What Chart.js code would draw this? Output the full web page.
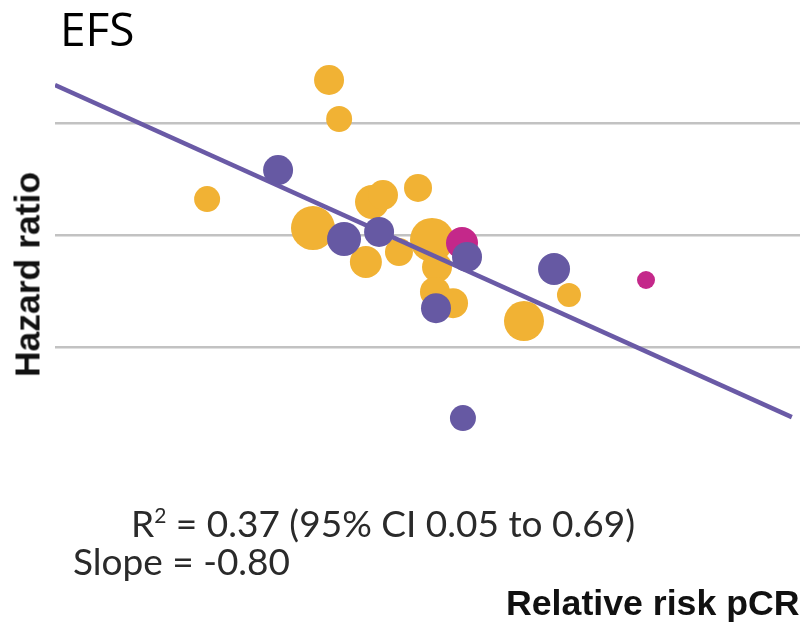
<!DOCTYPE html>
<html>
<head>
<meta charset="utf-8">
<script src="https://cdn.jsdelivr.net/npm/chart.js@4.4.1/dist/chart.umd.min.js"></script>
<style>
  body { margin: 0; background: #fff; }
  .wrap { position: relative; width: 801px; height: 623px; overflow: hidden; }
  .txt { position: absolute; white-space: nowrap; color: #111; }
  .title { left: 60px; top: 5px; font: 46px/46px 'Open Sans', sans-serif; color: #000; }
  .ylabel { left: -122px; top: 257px; width: 300px; text-align: center; font: bold 35.5px/35px 'Liberation Sans', Arial, sans-serif; transform: rotate(-90deg); }
  .xlabel { left: 506px; top: 586px; font: bold 35.7px/35px 'Liberation Sans', Arial, sans-serif; }
  .note { font: 37px/35px Lato, sans-serif; color: #2a2a2a; }
  .note sup { font-size: 21px; vertical-align: 14px; line-height: 0; }
</style>
</head>
<body>
<div class="wrap">
  <canvas id="efs" width="801" height="623"></canvas>
  <div class="txt title">EFS</div>
  <div class="txt ylabel">Hazard ratio</div>
  <div class="txt xlabel">Relative risk pCR</div>
  <div class="txt note" style="left:131px; top:505px">R<sup>2</sup> = 0.37 (95% CI 0.05 to 0.69)</div>
  <div class="txt note" style="left:73px; top:543px">Slope = -0.80</div>
</div>
<script>
// trial-level points (x = relative risk pCR, y = hazard ratio, size = bubble size)
const yellowRR = [0.857, 1.320, 1.368, 1.247, 1.504, 1.537, 1.598, 1.809, 1.691, 1.901, 1.935, 1.921, 2.048, 3.088, 2.633]
const yellowHR = [1.249, 2.610, 2.050, 1.044, 0.846, 1.227, 1.281, 1.338, 0.900, 0.970, 0.820, 0.703, 0.656, 0.690, 0.587]
const yellowSize = [13, 15, 13, 22, 16, 17, 15, 14, 14, 22, 15, 15, 15, 12, 20]

const purpleRR = [1.102, 1.392, 1.576, 2.152, 1.928, 2.929, 2.121]
const purpleHR = [1.495, 0.976, 1.019, 0.873, 0.636, 0.810, 0.322]
const purpleSize = [15, 17, 15, 15, 15, 16, 13]

const magentaRR = [2.114, 4.057]
const magentaHR = [0.952, 0.757]
const magentaSize = [16, 9]

// regression line end points
const fitRR = [0.5, 6.8]
const fitHR = [2.53, 0.324]

const gridHR = [0.5, 1, 2]

function toPoints(xs, ys, rs) {
  return xs.map((x, i) => ({ x: x, y: ys[i], r: rs ? rs[i] : 0 }))
}

const ctx = document.getElementById('efs').getContext('2d')

new Chart(ctx, {
  type: 'bubble',
  data: {
    datasets: [{
      label: 'purple',
      data: toPoints(purpleRR, purpleHR, purpleSize),
      backgroundColor: '#6659a3',
      borderWidth: 0,
      clip: false
    }, {
      label: 'magenta',
      data: toPoints(magentaRR, magentaHR, magentaSize),
      backgroundColor: '#c4288a',
      borderWidth: 0,
      clip: false
    }, {
      type: 'line',
      label: 'fit',
      data: toPoints(fitRR, fitHR),
      borderColor: '#6a5aa6',
      borderWidth: 4.5,
      pointRadius: 0,
      fill: false
    }, {
      label: 'yellow',
      data: toPoints(yellowRR, yellowHR, yellowSize),
      backgroundColor: '#f1b234',
      borderWidth: 0,
      clip: false
    }]
  },
  options: {
    responsive: false,
    animation: false,
    events: [],
    layout: {
      autoPadding: false,
      padding: { left: 55, right: 1, top: 57.5, bottom: 164 }
    },
    scales: {
      x: {
        type: 'logarithmic',
        min: 0.5,
        max: 7,
        display: false
      },
      y: {
        type: 'logarithmic',
        min: 0.25,
        max: 3,
        afterBuildTicks: (axis) => {
          axis.ticks = gridHR.map(v => ({ value: v }))
        },
        ticks: { display: false },
        border: { display: false },
        grid: {
          color: '#c2c2c2',
          lineWidth: 2.5,
          drawTicks: false
        }
      }
    },
    plugins: {
      legend: { display: false },
      tooltip: { enabled: false }
    }
  }
})
</script>
</body>
</html>
